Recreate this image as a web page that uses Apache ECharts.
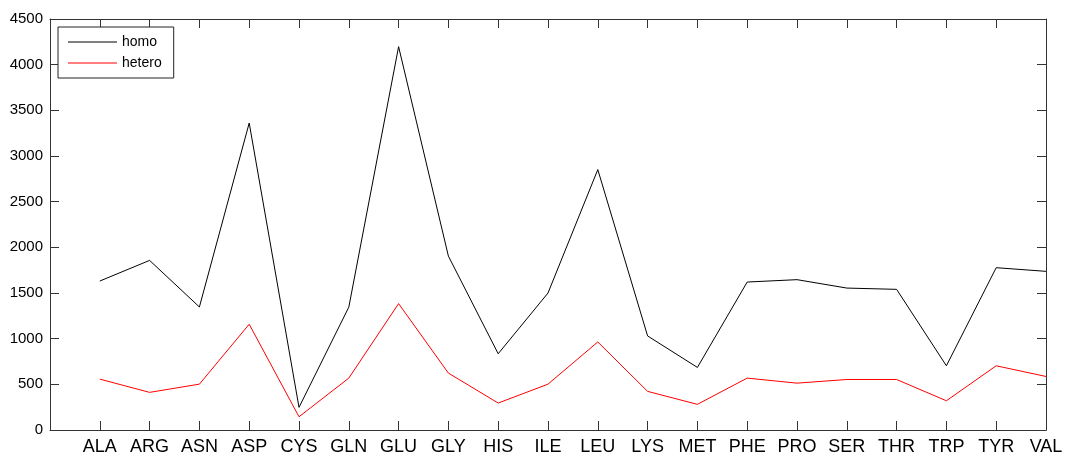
<!DOCTYPE html>
<html>
<head>
<meta charset="utf-8">
<script src="https://cdn.jsdelivr.net/npm/echarts@6/dist/echarts.min.js"></script>
<style>
html,body{margin:0;padding:0;background:#fff;}
#chart{width:1069px;height:456px;}
</style>
</head>
<body>
<div id="chart"></div>
<script>
const categories = ['ALA','ARG','ASN','ASP','CYS','GLN','GLU','GLY','HIS','ILE','LEU','LYS','MET','PHE','PRO','SER','THR','TRP','TYR','VAL'];
const homo   = [1631,1857,1347,3361,248,1345,4197,1904,835,1500,2851,1030,685,1620,1646,1554,1540,703,1777,1737];
const hetero = [557,412,502,1158,145,568,1384,623,295,502,964,423,281,568,513,553,553,320,703,586];
const yTicks = [0,500,1000,1500,2000,2500,3000,3500,4000,4500];

const axisColor = '#333';
const font = 'Liberation Sans, Arial, sans-serif';
const toPairs = arr => arr.map((v, i) => [i + 1, v]);

const chart = echarts.init(document.getElementById('chart'), null, {renderer: 'canvas'});
const xBase = {
  type: 'value', min: 0, max: categories.length, interval: 1,
  splitLine: {show: false},
  axisLine: {show: true, onZero: false, lineStyle: {color: axisColor, width: 1}},
  axisTick: {show: true, inside: true, length: 9, lineStyle: {color: axisColor}}
};
const yBase = {
  type: 'value', min: yTicks[0], max: yTicks[yTicks.length - 1], interval: 500,
  splitLine: {show: false},
  axisLine: {show: true, onZero: false, lineStyle: {color: axisColor, width: 1}},
  axisTick: {show: true, inside: true, length: 9, lineStyle: {color: axisColor}}
};
chart.setOption({
  animation: false,
  backgroundColor: '#fff',
  grid: {left: 50, right: 23, top: 19, bottom: 25, containLabel: false},
  legend: {
    left: 58, top: 27, orient: 'vertical',
    data: [{name: 'homo', icon: 'rect'}, {name: 'hetero', icon: 'rect'}],
    itemWidth: 49, itemHeight: 1.2, itemGap: 7,
    padding: [8, 12, 8, 10],
    borderColor: '#222', borderWidth: 1, backgroundColor: '#fff',
    textStyle: {fontFamily: font, fontSize: 14, color: '#000', lineHeight: 14, padding: [0, 0, 0, 0]}
  },
  xAxis: [
    Object.assign({}, xBase, {
      position: 'bottom',
      axisLabel: {
        show: true, margin: 8, fontFamily: font, fontSize: 18, color: '#000',
        showMinLabel: true, showMaxLabel: true,
        formatter: v => (v >= 1 && v <= categories.length) ? categories[v - 1] : ''
      }
    }),
    Object.assign({}, xBase, {position: 'top', axisLabel: {show: false}})
  ],
  yAxis: [
    Object.assign({}, yBase, {
      position: 'left',
      axisLabel: {show: true, margin: 7, fontFamily: font, fontSize: 15, color: '#000',
        formatter: v => String(v)}
    }),
    Object.assign({}, yBase, {position: 'right', axisLabel: {show: false}})
  ],
  series: [
    {name: 'homo', type: 'line', data: toPairs(homo), symbol: 'none',
     lineStyle: {color: '#000', width: 1}, itemStyle: {color: '#000'}},
    {name: 'hetero', type: 'line', data: toPairs(hetero), symbol: 'none',
     lineStyle: {color: '#ff0000', width: 1}, itemStyle: {color: '#ff0000'}}
  ]
});
</script>
</body>
</html>
